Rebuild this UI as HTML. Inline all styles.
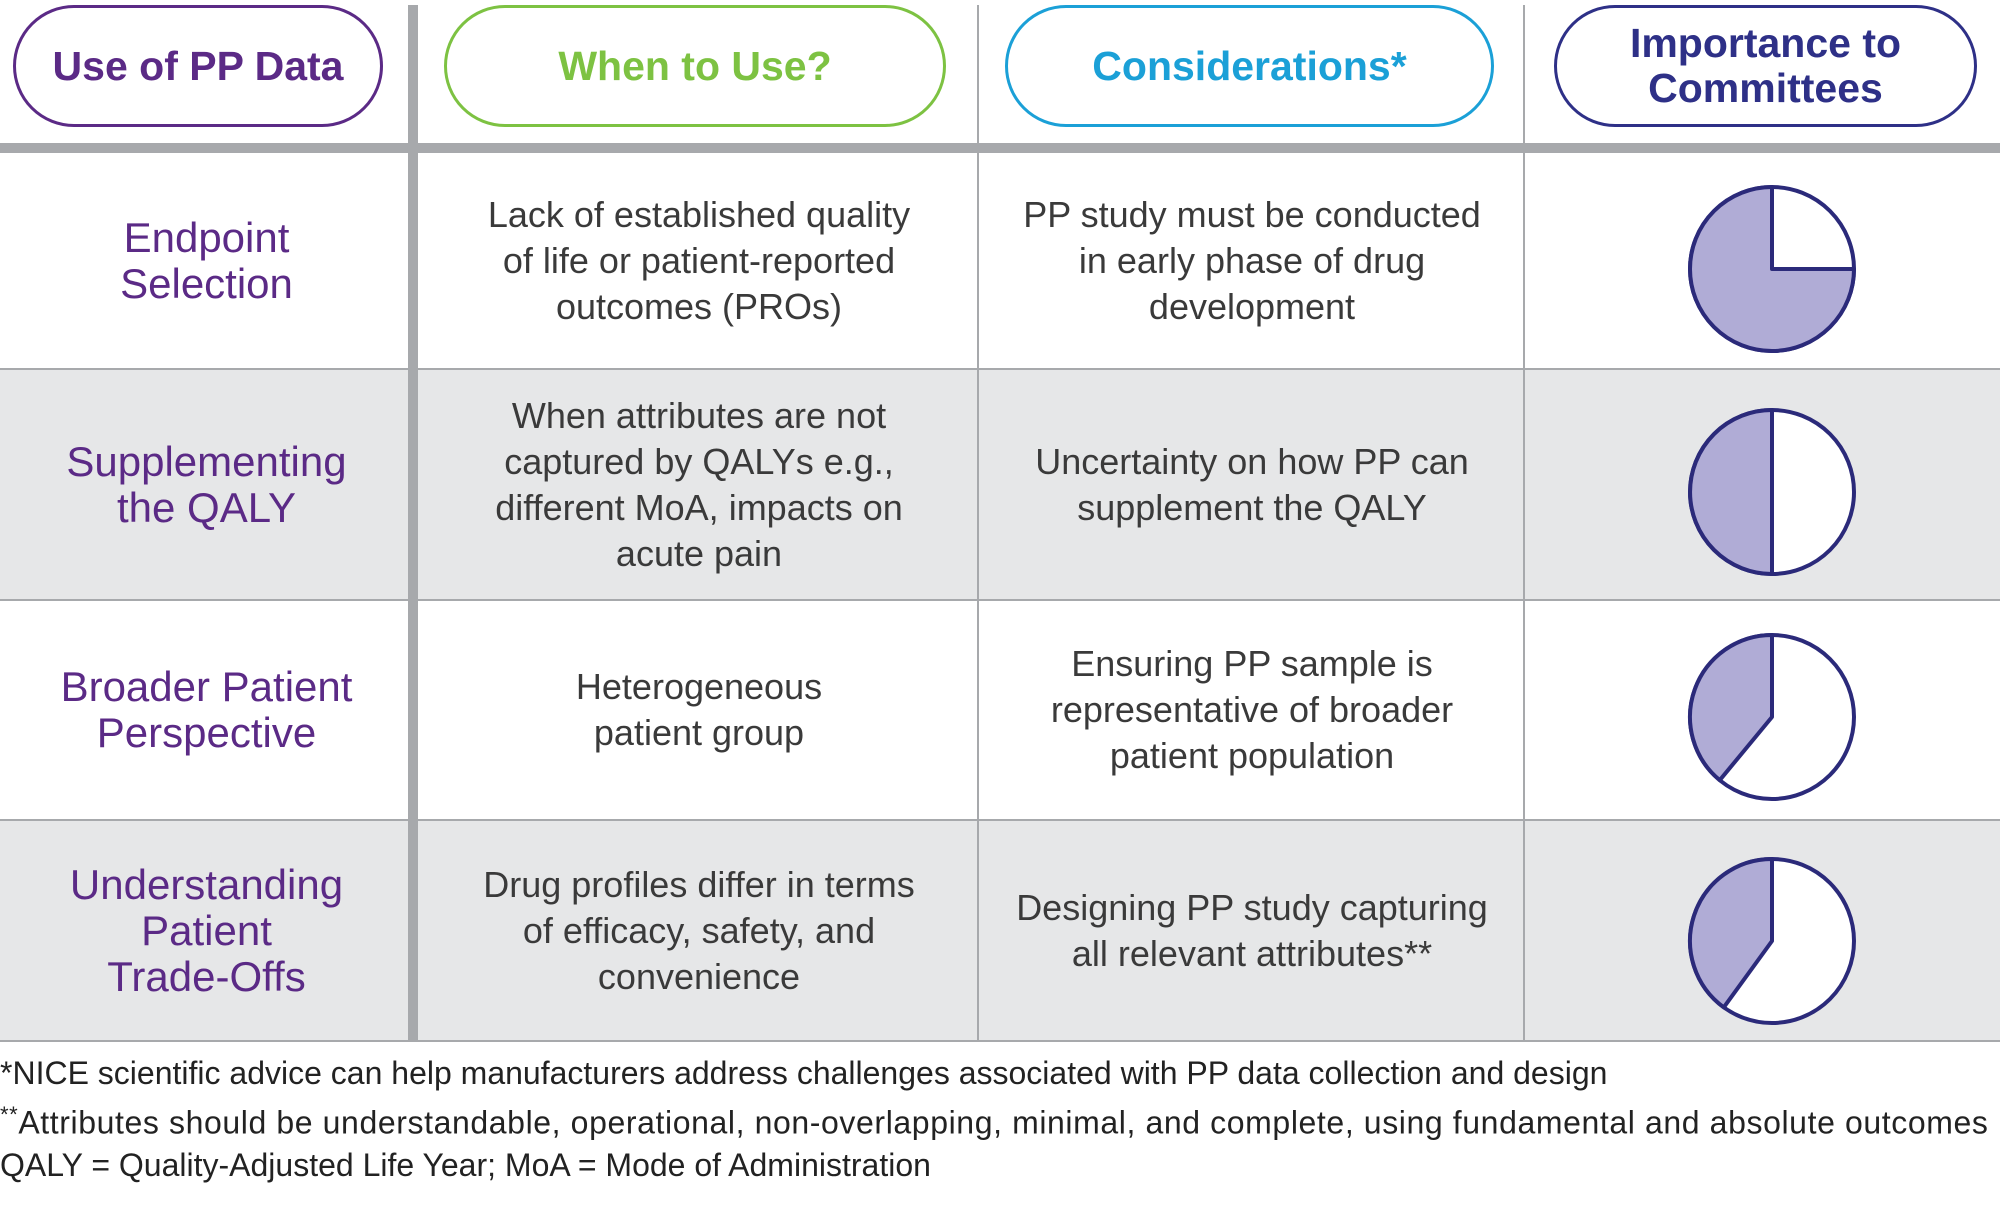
<!DOCTYPE html>
<html><head><meta charset="utf-8"><style>
body{margin:0;width:2000px;height:1216px;background:#fff;position:relative;overflow:hidden;font-family:"Liberation Sans",sans-serif}
.abs{position:absolute}
.pill{position:absolute;top:5px;height:122px;border:3px solid;border-radius:62px;box-sizing:border-box;display:flex;align-items:center;justify-content:center;text-align:center;font-weight:bold;font-size:41px;line-height:45px}
.row{position:absolute;left:0;width:2000px}
.cell{position:absolute;display:flex;align-items:center;justify-content:center;text-align:center}
.lab{color:#5b2a86;font-size:42px;line-height:46px;left:0;width:413px}
.txt{color:#3a3a3a;font-size:36px;line-height:46px}
.c2{left:420px;width:558px}.c3{left:980px;width:544px}
.hl{position:absolute;left:0;width:2000px;height:2px;background:#a7a9ac}
.foot{position:absolute;left:0;color:#222;font-size:32px;white-space:nowrap}
</style></head><body>
<div class="pill" style="left:13px;width:370px;border-color:#5b2a86;color:#5b2a86">Use of PP Data</div>
<div class="pill" style="left:444px;width:502px;border-color:#7dc242;color:#7dc242">When to Use?</div>
<div class="pill" style="left:1005px;width:489px;border-color:#1ba0d7;color:#1ba0d7">Considerations*</div>
<div class="pill" style="left:1554px;width:423px;border-color:#2e3087;color:#2e3087">Importance to<br>Committees</div>

<div class="row" style="top:153px;height:216px;background:#fff">
<div class="cell lab" style="height:216px">Endpoint<br>Selection</div>
<div class="cell txt c2" style="height:216px">Lack of established quality<br>of life or patient-reported<br>outcomes (PROs)</div>
<div class="cell txt c3" style="height:216px">PP study must be conducted<br>in early phase of drug<br>development</div></div>
<div class="row" style="top:369px;height:231px;background:#e6e7e8">
<div class="cell lab" style="height:231px">Supplementing<br>the QALY</div>
<div class="cell txt c2" style="height:231px">When attributes are not<br>captured by QALYs e.g.,<br>different MoA, impacts on<br>acute pain</div>
<div class="cell txt c3" style="height:231px">Uncertainty on how PP can<br>supplement the QALY</div></div>
<div class="row" style="top:600px;height:220px;background:#fff">
<div class="cell lab" style="height:220px">Broader Patient<br>Perspective</div>
<div class="cell txt c2" style="height:220px">Heterogeneous<br>patient group</div>
<div class="cell txt c3" style="height:220px">Ensuring PP sample is<br>representative of broader<br>patient population</div></div>
<div class="row" style="top:820px;height:221px;background:#e6e7e8">
<div class="cell lab" style="height:221px">Understanding<br>Patient<br>Trade-Offs</div>
<div class="cell txt c2" style="height:221px">Drug profiles differ in terms<br>of efficacy, safety, and<br>convenience</div>
<div class="cell txt c3" style="height:221px">Designing PP study capturing<br>all relevant attributes**</div></div>

<div class="abs" style="left:0;top:143px;width:2000px;height:10px;background:#a7a9ac"></div>
<div class="hl" style="top:368px"></div>
<div class="hl" style="top:599px"></div>
<div class="hl" style="top:819px"></div>
<div class="hl" style="top:1040px"></div>
<div class="abs" style="left:408px;top:5px;width:10px;height:1036px;background:#a7a9ac"></div>
<div class="abs" style="left:977px;top:5px;width:2px;height:1036px;background:#a7a9ac"></div>
<div class="abs" style="left:1523px;top:5px;width:2px;height:1036px;background:#a7a9ac"></div>

<svg id="pies" class="abs" style="left:0;top:0" width="2000" height="1216"></svg>

<div class="foot" style="top:1055px">*NICE scientific advice can help manufacturers address challenges associated with PP data collection and design</div>
<div class="foot" style="top:1102px;letter-spacing:0.6px"><sup style="font-size:22px">**</sup>Attributes should be understandable, operational, non-overlapping, minimal, and complete, using fundamental and absolute outcomes</div>
<div class="foot" style="top:1147px">QALY = Quality-Adjusted Life Year; MoA = Mode of Administration</div>
<script>
const categories=["Endpoint Selection","Supplementing the QALY","Broader Patient Perspective","Understanding Patient Trade-Offs"];
const importance=[0.75,0.5,0.39,0.4];
const rowCenters=[269,492,717,941];
const svg=document.getElementById('pies');
const NS="http://www.w3.org/2000/svg";
const cx=1772,r=82;
importance.forEach((v,i)=>{
  const cy=rowCenters[i];
  const c=document.createElementNS(NS,'circle');
  
  
  c.setAttribute('cx',cx);c.setAttribute('cy',cy);c.setAttribute('r',r);
  c.setAttribute('fill','#fff');c.setAttribute('stroke','#2b2a7a');c.setAttribute('stroke-width',4);
  svg.appendChild(c);
  const a=v*2*Math.PI;
  const ex=cx-r*Math.sin(a),ey=cy-r*Math.cos(a);
  const large=v>0.5?1:0;
  const p=document.createElementNS(NS,'path');
  
  
  p.setAttribute('d',`M${cx},${cy} L${cx},${cy-r} A${r},${r} 0 ${large} 0 ${ex},${ey} Z`);
  p.setAttribute('fill','#b0acd6');p.setAttribute('stroke','#2b2a7a');p.setAttribute('stroke-width',4);p.setAttribute('stroke-linejoin','round');
  svg.appendChild(p);
});
</script>
</body></html>
